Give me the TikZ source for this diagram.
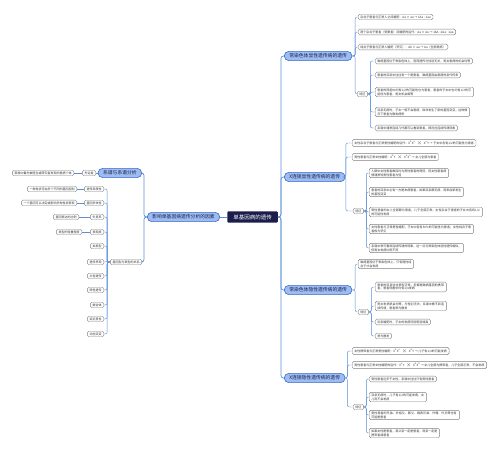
\documentclass[tikz,border=0pt]{standalone}
\usepackage{fontspec}
\setmainfont{Noto Sans CJK SC}
\XeTeXlinebreaklocale "zh"
\XeTeXlinebreakskip=0pt plus 0.5pt
\usetikzlibrary{positioning}
\definecolor{ink}{HTML}{1B1E4B}
\definecolor{sky}{HTML}{9DBDF2}
\definecolor{edge}{HTML}{3A6BC9}
\definecolor{wire}{HTML}{5B8FD8}
\definecolor{frame}{HTML}{808080}

\begin{document}
\begin{tikzpicture}[x=1pt, y=-1pt,
  root/.style={rectangle, fill=ink, text=white, rounded corners=1pt, inner xsep=6pt, inner ysep=3.2pt, font=\fontsize{5.5}{6.5}\selectfont},
  topic/.style={rectangle, draw=edge, line width=0.6pt, fill=sky, text=ink, rounded corners=4.5pt, inner xsep=5pt, inner ysep=2.4pt, font=\fontsize{4.8}{5.6}\selectfont},
  leaf/.style={rectangle, draw=frame, line width=0.4pt, fill=white, text=black!80, rounded corners=1.5pt, inner xsep=2.2pt, inner ysep=1.4pt, align=left, font=\fontsize{3}{3.8}\selectfont},
  trunk/.style={draw=wire, line width=0.7pt, rounded corners=2.5pt},
  link/.style={draw=wire, line width=0.45pt, rounded corners=2pt}]
  \useasboundingbox (0,0) rectangle (500,454);

  \node[root] (c) at (252.5,217) {单基因病的遗传};

  % right side
  \node[topic, anchor=west] (ad) at (284,56) {常染色体显性遗传病的遗传};
  \node[topic, anchor=west] (xd) at (284,177) {X连锁显性遗传病的遗传};
  \node[topic, anchor=west] (ar) at (284,290) {常染色体隐性遗传病的遗传};
  \node[topic, anchor=west] (xr) at (284,378) {X连锁隐性遗传病的遗传};

  \node[leaf, anchor=west] (ad1) at (358,17) {杂合子患者与正常人之间婚配：Aa × aa → 1Aa : 1aa};
  \node[leaf, anchor=west] (ad2) at (358,32) {两个杂合子患者（受累者）间婚配的后代：Aa × Aa → 1AA : 2Aa : 1aa};
  \node[leaf, anchor=west] (ad3) at (358,47) {纯合子患者与正常人婚配（罕见）：AA × aa → Aa（全部患病）};
  \node[leaf, anchor=west] (adt) at (357,94) {特征};
  \node[leaf, anchor=west] (adf1) at (375,61) {致病基因位于常染色体上，因而遗传与性别无关，男女患病的机会均等};
  \node[leaf, anchor=west] (adf2) at (375,75) {患者的双亲中往往有一个是患者，致病基因由患病的亲代传来};
  \node[leaf, anchor=west, text width=94pt] (adf3) at (375,92) {患者的同胞中约有1/2的可能性也为患者，患者的子女中也约有1/2的可能性为患者，男女机会相等};
  \node[leaf, anchor=west, text width=90pt] (adf4) at (375,112) {双亲无病时，子女一般不会患病，除非发生了新的基因突变；这种情况下患者为散发病例};
  \node[leaf, anchor=west] (adf5) at (375,128) {系谱中通常连续几代都可以看到患者，即存在连续传递现象};

  \node[leaf, anchor=west] (xd1) at (352,143) {女性杂合子患者与正常男性婚配的后代：$\mathrm{X^AX^a\times X^aY}$ → 子女中各有1/2的可能性为患者};
  \node[leaf, anchor=west] (xd2) at (352,157) {男性患者与正常女性婚配：$\mathrm{X^AY\times X^aX^a}$ → 女儿全部为患者};
  \node[leaf, anchor=west] (xdt) at (353,211) {特征};
  \node[leaf, anchor=west, text width=75pt] (xdf1) at (369,173) {人群中女性患者数目约为男性患者的两倍，但女性患者病情通常较男性患者为轻};
  \node[leaf, anchor=west, text width=90pt] (xdf2) at (369,192) {患者的双亲中必有一方是本病患者，如果双亲都无病，则来自新发生的基因突变};
  \node[leaf, anchor=west, text width=109pt] (xdf3) at (369,212) {男性患者的女儿全部都为患者，儿子全部正常；女性杂合子患者的子女中各有1/2的可能性发病};
  \node[leaf, anchor=west, text width=100pt] (xdf4) at (369,229) {女性患者与正常男性婚配，子女中各有50\%的可能性为患者；女性纯合子患者极为罕见};
  \node[leaf, anchor=west, text width=90pt] (xdf5) at (369,248) {系谱中常可看到连续传递的现象，这一点与常染色体显性遗传相似，但男女发病比例不同};

  \node[leaf, anchor=west, text width=51pt] (ar1) at (358,264) {致病基因位于常染色体上，只有隐性纯合子才会发病};
  \node[leaf, anchor=west] (art) at (358,312) {特征};
  \node[leaf, anchor=west, text width=67pt] (arf1) at (375,287) {患者的双亲往往表型正常，但都是致病基因的携带者；患者同胞中约有1/4发病};
  \node[leaf, anchor=west, text width=67pt] (arf2) at (375,306) {男女发病机会均等，与性别无关；系谱中看不到连续传递，患者常为散发};
  \node[leaf, anchor=west] (arf3) at (375,322) {近亲婚配时，子女的发病风险明显增高};
  \node[leaf, anchor=west] (arf4) at (375,336) {常为散发};

  \node[leaf, anchor=west] (xr1) at (352,351) {女性携带者与正常男性婚配：$\mathrm{X^AX^a\times X^AY}$ → 儿子有1/2的可能发病};
  \node[leaf, anchor=west] (xr2) at (352,365) {男性患者与正常女性婚配的后代：$\mathrm{X^aY\times X^AX^A}$ → 女儿全部为携带者，儿子全部正常，不会发病};
  \node[leaf, anchor=west] (xrt) at (353,407) {特征};
  \node[leaf, anchor=west] (xrf1) at (369,379) {男性患者远多于女性，系谱中往往只有男性患者};
  \node[leaf, anchor=west, text width=53pt] (xrf2) at (369,397) {双亲无病时，儿子有1/2的可能发病，女儿则不会发病};
  \node[leaf, anchor=west, text width=86pt] (xrf3) at (369,415) {男性患者的兄弟、外祖父、舅父、姨表兄弟、外甥、外孙等也有可能是患者};
  \node[leaf, anchor=west, text width=66pt] (xrf4) at (369,433) {如果女性是患者，其父亲一定是患者，母亲一定是携带者或患者};

  % left side
  \node[topic, anchor=east] (fac) at (220,217) {影响单基因病遗传分析的因素};
  \node[topic, anchor=east] (ped) at (142,173) {系谱与系谱分析};
  \node[leaf, anchor=east] (pro) at (96,173) {先证者};
  \node[leaf, anchor=east] (prod) at (74,173) {家族中最先被医生或研究者发现的患病个体};
  \node[leaf, anchor=east] (geno) at (142,262) {基因型与表型的关系};
  \node[leaf, anchor=east] (het) at (104,189) {遗传异质性};
  \node[leaf, anchor=east] (hetd) at (77,189) {一种性状可由多个不同的基因控制};
  \node[leaf, anchor=east] (ple) at (104,203) {基因多效性};
  \node[leaf, anchor=east] (pled) at (77,203) {一个基因可以决定或影响多种性状表现};
  \node[leaf, anchor=east] (pen) at (104,217) {外显率};
  \node[leaf, anchor=east] (pend) at (79,217) {基因表达的比例};
  \node[leaf, anchor=east] (expr) at (104,232) {表现度};
  \node[leaf, anchor=east] (exprd) at (82,232) {表型的轻重程度};
  \node[leaf, anchor=east] (phe) at (104,246) {拟表型};
  \node[leaf, anchor=east] (ant) at (104,262) {遗传早现};
  \node[leaf, anchor=east] (sexi) at (104,276) {从性遗传};
  \node[leaf, anchor=east] (limi) at (104,290) {限性遗传};
  \node[leaf, anchor=east] (mos) at (104,305) {嵌合体};
  \node[leaf, anchor=east] (dely) at (104,319) {延迟显性};
  \node[leaf, anchor=east] (dyn) at (104,334) {动态突变};

  % connectors
  \draw[trunk] (c.east) -- ++(3,0) |- (ad.west);
  \draw[trunk] (c.east) -- ++(3,0) |- (xd.west);
  \draw[trunk] (c.east) -- ++(3,0) |- (ar.west);
  \draw[trunk] (c.east) -- ++(3,0) |- (xr.west);
  \draw[trunk] (c.west) -- (fac.east);
  \draw[trunk] (fac.west) -- ++(-3,0) |- (ped.east);
  \draw[trunk] (fac.west) -- ++(-3,0) |- (geno.east);

  \draw[link] (ad.east) -- ++(3,0) |- (ad1.west);
  \draw[link] (ad.east) -- ++(3,0) |- (ad2.west);
  \draw[link] (ad.east) -- ++(3,0) |- (ad3.west);
  \draw[link] (ad.east) -- ++(3,0) |- (adt.west);
  \draw[link] (adt.east) -- ++(2.5,0) |- (adf1.west);
  \draw[link] (adt.east) -- ++(2.5,0) |- (adf2.west);
  \draw[link] (adt.east) -- ++(2.5,0) |- (adf3.west);
  \draw[link] (adt.east) -- ++(2.5,0) |- (adf4.west);
  \draw[link] (adt.east) -- ++(2.5,0) |- (adf5.west);

  \draw[link] (xd.east) -- ++(0.5,0) |- (xd1.west);
  \draw[link] (xd.east) -- ++(0.5,0) |- (xd2.west);
  \draw[link] (xd.east) -- ++(0.5,0) |- (xdt.west);
  \draw[link] (xdt.east) -- ++(2.5,0) |- (xdf1.west);
  \draw[link] (xdt.east) -- ++(2.5,0) |- (xdf2.west);
  \draw[link] (xdt.east) -- ++(2.5,0) |- (xdf3.west);
  \draw[link] (xdt.east) -- ++(2.5,0) |- (xdf4.west);
  \draw[link] (xdt.east) -- ++(2.5,0) |- (xdf5.west);

  \draw[link] (ar.east) -- ++(3,0) |- (ar1.west);
  \draw[link] (ar.east) -- ++(3,0) |- (art.west);
  \draw[link] (art.east) -- ++(2.5,0) |- (arf1.west);
  \draw[link] (art.east) -- ++(2.5,0) |- (arf2.west);
  \draw[link] (art.east) -- ++(2.5,0) |- (arf3.west);
  \draw[link] (art.east) -- ++(2.5,0) |- (arf4.west);

  \draw[link] (xr.east) -- ++(2,0) |- (xr1.west);
  \draw[link] (xr.east) -- ++(2,0) |- (xr2.west);
  \draw[link] (xr.east) -- ++(2,0) |- (xrt.west);
  \draw[link] (xrt.east) -- ++(2.5,0) |- (xrf1.west);
  \draw[link] (xrt.east) -- ++(2.5,0) |- (xrf2.west);
  \draw[link] (xrt.east) -- ++(2.5,0) |- (xrf3.west);
  \draw[link] (xrt.east) -- ++(2.5,0) |- (xrf4.west);

  \draw[link] (ped.west) -- (pro.east);
  \draw[link] (pro.west) -- (prod.east);
  \draw[link] (geno.west) -- ++(-3,0) |- (het.east);
  \draw[link] (geno.west) -- ++(-3,0) |- (ple.east);
  \draw[link] (geno.west) -- ++(-3,0) |- (pen.east);
  \draw[link] (geno.west) -- ++(-3,0) |- (expr.east);
  \draw[link] (geno.west) -- ++(-3,0) |- (phe.east);
  \draw[link] (geno.west) -- ++(-3,0) |- (ant.east);
  \draw[link] (geno.west) -- ++(-3,0) |- (sexi.east);
  \draw[link] (geno.west) -- ++(-3,0) |- (limi.east);
  \draw[link] (geno.west) -- ++(-3,0) |- (mos.east);
  \draw[link] (geno.west) -- ++(-3,0) |- (dely.east);
  \draw[link] (geno.west) -- ++(-3,0) |- (dyn.east);
  \draw[link] (het.west) -- (hetd.east);
  \draw[link] (ple.west) -- (pled.east);
  \draw[link] (pen.west) -- (pend.east);
  \draw[link] (expr.west) -- (exprd.east);
\end{tikzpicture}
\end{document}
